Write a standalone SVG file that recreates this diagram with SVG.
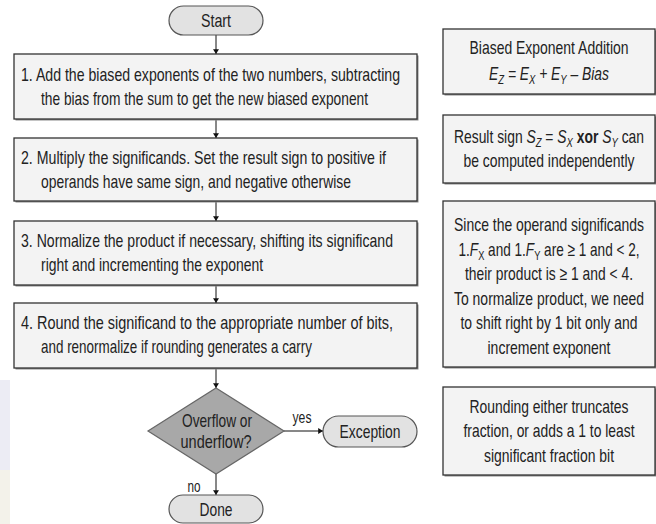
<svg xmlns="http://www.w3.org/2000/svg" width="656" height="524" viewBox="0 0 656 524">
<defs>
<marker id="ah" viewBox="0 0 8 10" refX="8" refY="5" markerWidth="5" markerHeight="6" orient="auto" markerUnits="userSpaceOnUse">
<path d="M0,0 L8,5 L0,10 z" fill="#111"/>
</marker>
</defs>
<style>
text{font-family:"Liberation Sans Narrow","Arial Narrow","Liberation Sans",Arial,sans-serif;font-size:19px;fill:#222}
.c{text-anchor:middle}
.box{fill:#f3f3f3;stroke:#333;stroke-width:1.3}
.sh{fill:#8a8a8a}
.pill{fill:#e2e2e2;stroke:#555;stroke-width:1.2}
.dia{fill:#a8a8a8;stroke:#666;stroke-width:1.2}
.ln{stroke:#111;stroke-width:1;fill:none;marker-end:url(#ah)}
.i{font-style:italic}
.b{font-weight:bold}
.s{font-size:13px}
.lab{font-size:16px}
</style>
<rect width="656" height="524" fill="#fff"/>
<g id="bg">
<rect x="0" y="380" width="10" height="90" fill="#ececf4"/>
<rect x="0" y="470" width="10" height="54" fill="#f3f2ea"/>
</g>
<g id="connectors">
<line class="ln" x1="216" y1="35" x2="216" y2="54"/>
<line class="ln" x1="216" y1="119" x2="216" y2="138"/>
<line class="ln" x1="216" y1="201" x2="216" y2="221"/>
<line class="ln" x1="216" y1="285" x2="216" y2="303"/>
<line class="ln" x1="216" y1="368" x2="216" y2="388"/>
<line class="ln" x1="216" y1="474" x2="216" y2="495"/>
<line class="ln" x1="284" y1="431" x2="323" y2="431"/>
<text class="lab" x="302" y="423" text-anchor="middle" textLength="19" lengthAdjust="spacingAndGlyphs">yes</text>
<text class="lab" x="194" y="492" text-anchor="middle" textLength="13" lengthAdjust="spacingAndGlyphs">no</text>
</g>
<g id="start">
<rect class="pill" x="169" y="6" width="94" height="29" rx="14.5"/>
<text class="c" x="216" y="27" textLength="30" lengthAdjust="spacingAndGlyphs">Start</text>
</g>
<g id="step1">
<rect class="sh" x="15.5" y="55.5" width="403" height="65"/>
<rect class="box" x="14" y="54" width="403" height="65"/>
<text x="21" y="81" textLength="379" lengthAdjust="spacingAndGlyphs">1.  Add the biased exponents of the two numbers, subtracting</text>
<text x="41" y="105" textLength="327" lengthAdjust="spacingAndGlyphs">the bias from the sum to get the new biased exponent</text>
</g>
<g id="step2">
<rect class="sh" x="15.5" y="139.5" width="403" height="63"/>
<rect class="box" x="14" y="138" width="403" height="63"/>
<text x="21" y="164" textLength="365" lengthAdjust="spacingAndGlyphs">2.  Multiply the significands. Set the result sign to positive if</text>
<text x="41" y="188" textLength="310" lengthAdjust="spacingAndGlyphs">operands have same sign, and negative otherwise</text>
</g>
<g id="step3">
<rect class="sh" x="15.5" y="222.5" width="403" height="64"/>
<rect class="box" x="14" y="221" width="403" height="64"/>
<text x="21" y="247" textLength="372" lengthAdjust="spacingAndGlyphs">3.  Normalize the product if necessary, shifting its significand</text>
<text x="41" y="271" textLength="222" lengthAdjust="spacingAndGlyphs">right and incrementing the exponent</text>
</g>
<g id="step4">
<rect class="sh" x="15.5" y="304.5" width="403" height="65"/>
<rect class="box" x="14" y="303" width="403" height="65"/>
<text x="21" y="329" textLength="372" lengthAdjust="spacingAndGlyphs">4.  Round the significand to the appropriate number of bits,</text>
<text x="41" y="353" textLength="271" lengthAdjust="spacingAndGlyphs">and renormalize if rounding generates a carry</text>
</g>
<g id="decision">
<polygon class="dia" points="216,388 284,431 216,474 148,431"/>
<text class="c" x="217" y="427" textLength="70" lengthAdjust="spacingAndGlyphs">Overflow or</text>
<text class="c" x="216" y="448" textLength="71" lengthAdjust="spacingAndGlyphs">underflow?</text>
</g>
<g id="exception">
<rect class="pill" x="323" y="416" width="94" height="31" rx="15.5"/>
<text class="c" x="370" y="438" textLength="61" lengthAdjust="spacingAndGlyphs">Exception</text>
</g>
<g id="done">
<rect class="pill" x="169" y="495" width="94" height="28" rx="14"/>
<text class="c" x="216" y="516" textLength="33" lengthAdjust="spacingAndGlyphs">Done</text>
</g>
<g id="noteA">
<rect class="sh" x="444.5" y="30.5" width="212" height="65"/>
<rect class="box" x="443" y="29" width="212" height="65"/>
<text class="c" x="549" y="54" textLength="159" lengthAdjust="spacingAndGlyphs">Biased Exponent Addition</text>
<text class="c i" x="549" y="80" textLength="120" lengthAdjust="spacingAndGlyphs"><tspan>E</tspan><tspan class="s" dy="4">Z</tspan><tspan dy="-4"> = E</tspan><tspan class="s" dy="4">X</tspan><tspan dy="-4"> + E</tspan><tspan class="s" dy="4">Y</tspan><tspan dy="-4"> – Bias</tspan></text>
</g>
<g id="noteB">
<rect class="sh" x="444.5" y="116.5" width="212" height="68"/>
<rect class="box" x="443" y="115" width="212" height="68"/>
<text class="c" x="549" y="143" textLength="190" lengthAdjust="spacingAndGlyphs">Result sign <tspan class="i">S</tspan><tspan class="s i" dy="4">Z</tspan><tspan dy="-4"> = </tspan><tspan class="i">S</tspan><tspan class="s i" dy="4">X</tspan><tspan class="b" dy="-4"> xor </tspan><tspan class="i">S</tspan><tspan class="s i" dy="4">Y</tspan><tspan dy="-4"> can</tspan></text>
<text class="c" x="549" y="167" textLength="171" lengthAdjust="spacingAndGlyphs">be computed independently</text>
</g>
<g id="noteC">
<rect class="sh" x="444.5" y="202.5" width="212" height="166"/>
<rect class="box" x="443" y="201" width="212" height="166"/>
<text class="c" x="549" y="231" textLength="190" lengthAdjust="spacingAndGlyphs">Since the operand significands</text>
<text class="c" x="549" y="255.5" textLength="181" lengthAdjust="spacingAndGlyphs">1.<tspan class="i">F</tspan><tspan class="s" dy="4">X</tspan><tspan dy="-4"> and 1.</tspan><tspan class="i">F</tspan><tspan class="s" dy="4">Y</tspan><tspan dy="-4"> are ≥ 1 and &lt; 2,</tspan></text>
<text class="c" x="549" y="280" textLength="168" lengthAdjust="spacingAndGlyphs">their product is ≥ 1 and &lt; 4.</text>
<text class="c" x="549" y="304.5" textLength="190" lengthAdjust="spacingAndGlyphs">To normalize product, we need</text>
<text class="c" x="549" y="329" textLength="177" lengthAdjust="spacingAndGlyphs">to shift right by 1 bit only and</text>
<text class="c" x="549" y="353.5" textLength="123" lengthAdjust="spacingAndGlyphs">increment exponent</text>
</g>
<g id="noteD">
<rect class="sh" x="444.5" y="388.5" width="212" height="88"/>
<rect class="box" x="443" y="387" width="212" height="88"/>
<text class="c" x="549" y="412.5" textLength="159" lengthAdjust="spacingAndGlyphs">Rounding either truncates</text>
<text class="c" x="549" y="437" textLength="171" lengthAdjust="spacingAndGlyphs">fraction, or adds a 1 to least</text>
<text class="c" x="549" y="461.5" textLength="130" lengthAdjust="spacingAndGlyphs">significant fraction bit</text>
</g>
</svg>
